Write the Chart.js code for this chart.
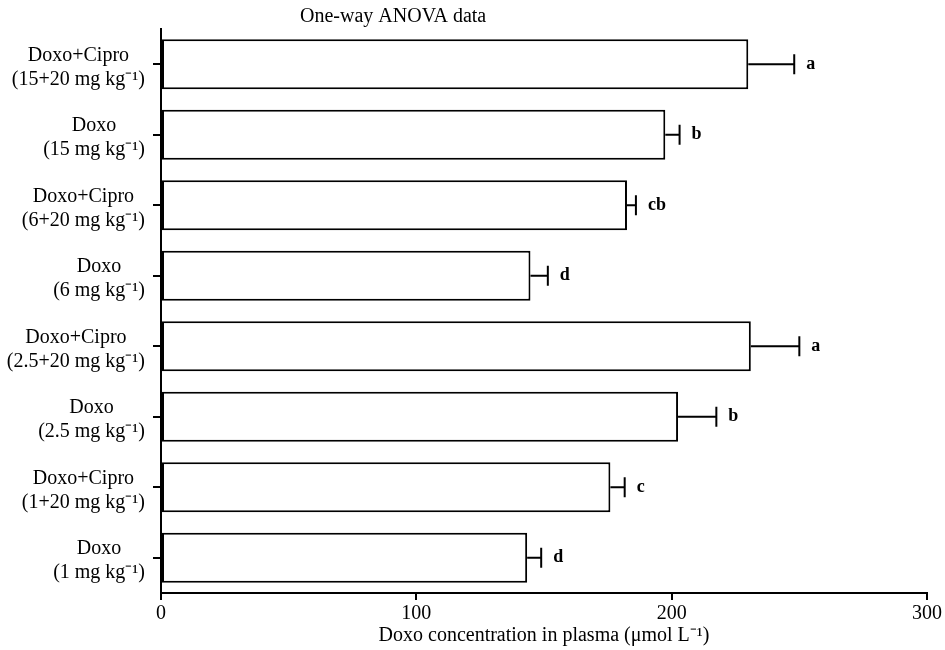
<!DOCTYPE html>
<html>
<head>
<meta charset="utf-8">
<script src="https://cdn.jsdelivr.net/npm/chart.js@4"></script>
<style>
  body { margin: 0; background: #fff; }
  #wrap { width: 945px; height: 650px; }
</style>
</head>
<body>
<div id="wrap"><canvas id="myChart"></canvas></div>
<script>
// data (top to bottom)
const groupLabels = [
  ['Doxo+Cipro', '(15+20 mg kg⁻¹)'],
  ['Doxo', '(15 mg kg⁻¹)'],
  ['Doxo+Cipro', '(6+20 mg kg⁻¹)'],
  ['Doxo', '(6 mg kg⁻¹)'],
  ['Doxo+Cipro', '(2.5+20 mg kg⁻¹)'],
  ['Doxo', '(2.5 mg kg⁻¹)'],
  ['Doxo+Cipro', '(1+20 mg kg⁻¹)'],
  ['Doxo', '(1 mg kg⁻¹)']
]
const meanValues = [230, 197.5, 182.5, 144.7, 231, 202.5, 176, 143.4]
const errorValues = [18, 5.6, 3.5, 6.8, 19, 15, 5.6, 5.5]
const sigLetters = ['a', 'b', 'cb', 'd', 'a', 'b', 'c', 'd']
const xTicks = [0, 100, 200, 300]

const serif = '"Liberation Serif", "Times New Roman", serif'

// error bars + significance letters
const errorBars = {
  id: 'errorBars',
  afterDatasetsDraw(chart) {
    const ctx = chart.ctx
    const xs = chart.scales.x
    const meta = chart.getDatasetMeta(0)
    ctx.save()
    ctx.strokeStyle = '#000'
    ctx.lineWidth = 2
    ctx.fillStyle = '#000'
    ctx.font = 'bold 18px ' + serif
    ctx.textBaseline = 'middle'
    meta.data.forEach((bar, i) => {
      const x0 = xs.getPixelForValue(meanValues[i])
      const x1 = xs.getPixelForValue(meanValues[i] + errorValues[i])
      const y = bar.y
      ctx.beginPath()
      ctx.moveTo(x0, y)
      ctx.lineTo(x1, y)
      ctx.moveTo(x1, y - 10)
      ctx.lineTo(x1, y + 10)
      ctx.stroke()
      ctx.fillText(sigLetters[i], x1 + 12, y)
    })
    ctx.restore()
  }
}

// two-line category labels, each centred on itself, right edge at the ticks
const groupText = {
  id: 'groupText',
  afterDraw(chart) {
    const ctx = chart.ctx
    const ys = chart.scales.y
    ctx.save()
    ctx.fillStyle = '#000'
    ctx.font = '20px ' + serif
    ctx.textBaseline = 'middle'
    ctx.textAlign = 'center'
    const right = ys.right - 16
    groupLabels.forEach((lines, i) => {
      const y = ys.getPixelForValue(i)
      const w = Math.max(...lines.map(l => ctx.measureText(l).width))
      const cx = right - w / 2
      ctx.fillText(lines[0], cx, y - 9)
      ctx.fillText(lines[1], cx, y + 15)
    })
    // heading
    ctx.textAlign = 'left'
    ctx.fillText('One-way ANOVA data', 300, 17)
    ctx.restore()
  }
}

const ctx = document.getElementById('myChart').getContext('2d')
const myChart = new Chart(ctx, {
  type: 'bar',
  data: {
    labels: groupLabels.map(l => l.join(' ')),
    datasets: [{
      data: meanValues,
      backgroundColor: '#fff',
      borderColor: '#000',
      borderWidth: 2,
      borderSkipped: false,
      categoryPercentage: 1,
      barPercentage: 0.71
    }]
  },
  options: {
    indexAxis: 'y',
    responsive: true,
    maintainAspectRatio: false,
    animation: false,
    layout: { padding: { top: 29, right: 18, left: 0, bottom: 0 } },
    plugins: {
      legend: { display: false },
      tooltip: { enabled: false }
    },
    scales: {
      x: {
        min: 0,
        max: 300,
        afterBuildTicks: s => { s.ticks = xTicks.map(v => ({ value: v })) },
        afterFit: s => { s.height = 57 },
        border: { color: '#000', width: 2 },
        grid: { drawOnChartArea: false, drawTicks: true, tickLength: 7, color: '#000', lineWidth: 2 },
        ticks: { color: '#000', font: { family: serif, size: 20 }, padding: 2, maxRotation: 0 },
        title: {
          display: true,
          text: 'Doxo concentration in plasma (μmol L⁻¹)',
          color: '#000',
          font: { family: serif, size: 20 },
          padding: { top: 0, bottom: 2 }
        }
      },
      y: {
        afterFit: s => { s.width = 161 },
        border: { color: '#000', width: 2 },
        grid: { offset: false, drawOnChartArea: false, drawTicks: true, tickLength: 8, color: '#000', lineWidth: 2 },
        ticks: { display: false }
      }
    }
  },
  plugins: [errorBars, groupText]
})
</script>
</body>
</html>
